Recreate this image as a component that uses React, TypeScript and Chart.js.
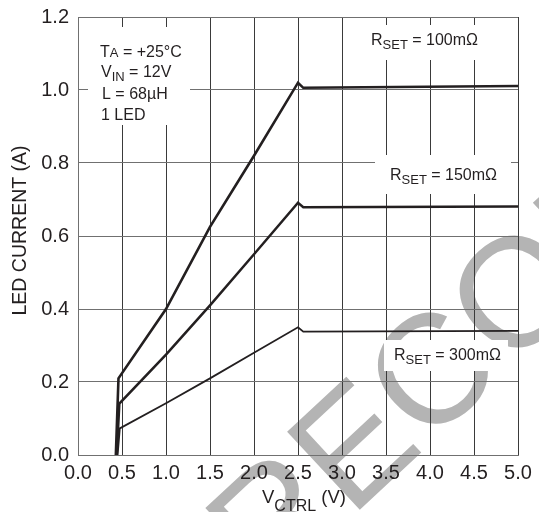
import React, { useEffect, useRef } from "react";
import { Chart, registerables } from "chart.js";

Chart.register(...registerables);

// ---- data ----
const xTicks = [0, 0.5, 1.0, 1.5, 2.0, 2.5, 3.0, 3.5, 4.0, 4.5, 5.0];
const yTicks = [0, 0.2, 0.4, 0.6, 0.8, 1.0, 1.2];

const rset100X = [0.43, 0.46, 1.0, 1.5, 2.0, 2.5, 2.56, 5.0];
const rset100Y = [0.0, 0.21, 0.40, 0.625, 0.82, 1.02, 1.006, 1.011];

const rset150X = [0.44, 0.47, 1.0, 1.5, 2.0, 2.5, 2.56, 5.0];
const rset150Y = [0.0, 0.141, 0.275, 0.41, 0.55, 0.691, 0.679, 0.681];

const rset300X = [0.45, 0.475, 1.0, 1.5, 2.0, 2.5, 2.56, 5.0];
const rset300Y = [0.0, 0.073, 0.142, 0.21, 0.28, 0.35, 0.338, 0.34];

const seriesLabels = ["RSET = 100mΩ", "RSET = 150mΩ", "RSET = 300mΩ"];

const FONT = "'Liberation Sans', Arial, Helvetica, sans-serif";
const INK = "#231f20";

function pts(xs: number[], ys: number[]) {
  return xs.map((x, i) => ({ x, y: ys[i] }));
}

type Part = [string, number, number]; // text, size, dy
function drawParts(ctx: CanvasRenderingContext2D, x: number, y: number, parts: Part[]) {
  let cx = x;
  for (const [t, size, dy] of parts) {
    ctx.font = `${size}px ${FONT}`;
    ctx.fillText(t, cx, y + dy);
    cx += ctx.measureText(t).width;
  }
}

const watermarkPlugin = {
  id: "watermark",
  beforeDraw(chart: any) {
    const ctx: CanvasRenderingContext2D = chart.ctx;
    ctx.save();
    const fs = 155;
    ctx.font = `${fs}px ${FONT}`;
    ctx.fillStyle = "#b4b4b4";
    ctx.textBaseline = "alphabetic";
    ctx.textAlign = "left";
    const pre = "NOT RE";
    const wPre = ctx.measureText(pre).width;
    const wC = ctx.measureText("C").width;
    const th = (-43 * Math.PI) / 180;
    const u = wPre + wC / 2;
    const v = -0.36 * fs;
    const cxC = 429, cyC = 369;
    const x0 = cxC - (u * Math.cos(th) - v * Math.sin(th));
    const y0 = cyC - (u * Math.sin(th) + v * Math.cos(th));
    ctx.translate(x0, y0);
    ctx.rotate(th);
    ctx.fillText("NOT RECOMMENDED", 0, 0);
    ctx.restore();
  },
};

const annotPlugin = {
  id: "annot",
  beforeDatasetsDraw(chart: any) {
    const ctx: CanvasRenderingContext2D = chart.ctx;
    ctx.save();
    ctx.fillStyle = "#ffffff";
    ctx.fillRect(88, 27, 102, 98);
    ctx.fillRect(360, 25, 134, 35);
    ctx.fillRect(375, 155, 136, 39);
    ctx.fillRect(384, 340, 124, 31);

    ctx.fillStyle = INK;
    ctx.textBaseline = "alphabetic";
    ctx.textAlign = "left";
    drawParts(ctx, 100, 57, [["T", 16, 0], ["A", 13, 0], [" = +25°C", 16, 0]]);
    drawParts(ctx, 101, 77, [["V", 16, 0], ["IN", 13, 4], [" = 12V", 16, 0]]);
    drawParts(ctx, 102, 99, [["L = 68µH", 16, 0]]);
    drawParts(ctx, 101, 120, [["1 LED", 16, 0]]);

    const r = (lbl: string) => lbl.replace("RSET", "");
    drawParts(ctx, 371, 45, [["R", 16, 0], ["SET", 13, 4], [r(seriesLabels[0]), 16, 0]]);
    drawParts(ctx, 390, 180, [["R", 16, 0], ["SET", 13, 4], [r(seriesLabels[1]), 16, 0]]);
    drawParts(ctx, 394, 360, [["R", 16, 0], ["SET", 13, 4], [r(seriesLabels[2]), 16, 0]]);

    // axis titles
    ctx.save();
    ctx.translate(26, 230.5);
    ctx.rotate(-Math.PI / 2);
    ctx.textAlign = "center";
    ctx.font = `19.5px ${FONT}`;
    ctx.fillText("LED CURRENT (A)", 0, 0);
    ctx.restore();

    drawParts(ctx, 262, 503, [["V", 18.5, 0], ["CTRL", 16, 8], [" (V)", 18.5, 0]]);
    ctx.restore();
  },
};

export default function App() {
  const ref = useRef<HTMLCanvasElement | null>(null);
  useEffect(() => {
    if (!ref.current) return;
    const lineDs = (label: string, xs: number[], ys: number[], w: number) => ({
      label,
      data: pts(xs, ys),
      borderColor: INK,
      backgroundColor: INK,
      borderWidth: w,
      pointRadius: 0,
      tension: 0,
      fill: false,
    });
    const chart = new Chart(ref.current, {
      type: "line",
      data: {
        datasets: [
          lineDs(seriesLabels[0], rset100X, rset100Y, 2.6),
          lineDs(seriesLabels[1], rset150X, rset150Y, 2.5),
          lineDs(seriesLabels[2], rset300X, rset300Y, 1.8),
        ],
      },
      options: {
        responsive: false,
        animation: false,
        events: [],
        layout: { padding: { top: 15, right: 21, left: 0, bottom: 0 } },
        plugins: { legend: { display: false }, tooltip: { enabled: false } },
        scales: {
          x: {
            type: "linear",
            min: 0,
            max: 5,
            afterBuildTicks: (s: any) => {
              s.ticks = xTicks.map((v) => ({ value: v }));
            },
            afterFit: (s: any) => {
              s.height = 57;
            },
            grid: { color: "#3a3a3a", lineWidth: 1, drawTicks: false },
            border: { color: "#707070", width: 1 },
            ticks: {
              padding: 6,
              color: INK,
              font: { family: FONT, size: 20 },
              maxRotation: 0,
              autoSkip: false,
              callback: (v: any) => Number(v).toFixed(1),
            },
          },
          y: {
            type: "linear",
            min: 0,
            max: 1.2,
            afterBuildTicks: (s: any) => {
              s.ticks = yTicks.map((v) => ({ value: v }));
            },
            afterFit: (s: any) => {
              s.width = 78;
            },
            grid: { color: "#707070", lineWidth: 1, drawTicks: false },
            border: { color: "#707070", width: 1 },
            ticks: {
              padding: 9,
              color: INK,
              font: { family: FONT, size: 20, lineHeight: 0.8 },
              autoSkip: false,
              callback: (v: any) => Number(v).toFixed(1),
            },
          },
        },
      },
      plugins: [watermarkPlugin, annotPlugin],
    } as any);
    return () => chart.destroy();
  }, []);
  return (
    <div style={{ position: "absolute", left: 0, top: 0, width: 539, height: 512, background: "#fff" }}>
      <canvas ref={ref} width={539} height={512} style={{ display: "block" }} />
    </div>
  );
}
